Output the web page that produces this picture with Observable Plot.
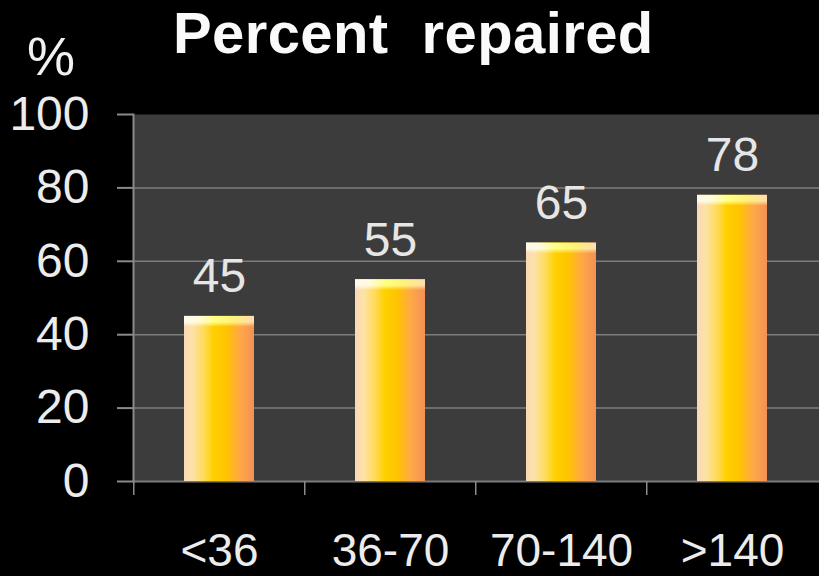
<!DOCTYPE html>
<html>
<head>
<meta charset="utf-8">
<script src="https://cdn.jsdelivr.net/npm/d3@7"></script>
<script src="https://cdn.jsdelivr.net/npm/@observablehq/plot@0.6"></script>
<style>
  html, body { margin: 0; padding: 0; background: #000; }
  #page { position: relative; width: 819px; height: 576px; background: #000; overflow: hidden; font-family: "Liberation Sans", Arial, sans-serif; }
  #header { position: absolute; left: 0; top: 0; width: 819px; height: 100px; color: #f2f2f2; z-index: 1; pointer-events: none; }
  #unit { position: absolute; left: 27px; top: 29px; font-size: 54px; line-height: 1; }
  #title { position: absolute; left: 173px; top: 4px; font-size: 58px; letter-spacing: 0.4px; font-weight: bold; line-height: 1; white-space: pre; color: #fafafa; }
  #chart svg { display: block; }
</style>
</head>
<body>
<div id="page">
  <div id="header">
    <span id="unit">%</span>
    <span id="title">Percent  repaired</span>
  </div>
  <div id="chart"></div>
</div>
<script>
// Share of cases repaired, by size group
const categories = ["<36", "36-70", "70-140", ">140"];
const values = [45, 55, 65, 78];
const yTicks = [0, 20, 40, 60, 80, 100];

const data = categories.map((category, i) => ({category, value: values[i]}));

const chartWidth = 819;
const marginLeft = 133;
const step = (chartWidth - marginLeft) / categories.length;

const chart = Plot.plot({
  width: chartWidth,
  height: 576,
  marginTop: 114,
  marginBottom: 95,
  marginLeft,
  marginRight: 0,
  style: {background: "#000", color: "#e6e6e6", fontFamily: "'Liberation Sans', Arial, sans-serif"},
  x: {domain: categories, paddingInner: 0.59, paddingOuter: 0.295, label: null},
  y: {domain: [0, 100], label: null},
  marks: [
    Plot.frame({fill: "#3c3c3c", stroke: null}),
    Plot.gridY(yTicks.filter(d => d > 0 && d < 100), {stroke: "#7c7c7c", strokeOpacity: 1, strokeWidth: 1.5}),
    Plot.ruleY([0], {stroke: "#7a7a7a", strokeWidth: 2}),
    Plot.frame({anchor: "left", stroke: "#8a8a8a", strokeWidth: 2}),
    // cylinder body
    Plot.barY(data, {x: "category", y: "value", fill: "url(#bar-cylinder)"}),
    // lighter top cap of each cylinder
    Plot.barY(data, {x: "category", y1: d => d.value - 3, y2: "value", fill: "url(#bar-cap)", className: "bar-cap"}),
    Plot.text(data, {x: "category", y: "value", text: d => String(d.value), dy: -24, lineAnchor: "bottom", fontSize: 48, fill: "#e6e6e6"}),
    Plot.axisY({ticks: yTicks, tickSize: 16, tickPadding: 28, fontSize: 48, stroke: "#8a8a8a", strokeWidth: 2, fill: "#ececec", label: null}),
    // tick marks on the group boundaries
    Plot.axisX({tickSize: 14, dx: -step / 2, tickFormat: () => "", stroke: "#8a8a8a", strokeWidth: 1.5, label: null}),
    Plot.axisX({tickSize: 0, tickPadding: 52, fontSize: 46, fill: "#ececec", label: null})
  ]
});

document.getElementById("chart").appendChild(chart);

// gradients used by the bars
const defs = d3.select(chart).insert("defs", ":first-child");
const body = defs.append("linearGradient").attr("id", "bar-cylinder").attr("x1", "0").attr("x2", "1").attr("y1", "0").attr("y2", "0");
[
  [0, "#f9d8b6"], [0.12, "#fde2a8"], [0.3, "#ffda50"], [0.42, "#ffd000"],
  [0.6, "#ffc400"], [0.8, "#ffa848"], [1, "#f29155"]
].forEach(([o, c]) => body.append("stop").attr("offset", o).attr("stop-color", c));

const cap = defs.append("linearGradient").attr("id", "bar-cap").attr("x1", "0").attr("x2", "1").attr("y1", "0").attr("y2", "0");
[
  [0, "#fff8ec"], [0.2, "#fffbe0"], [0.45, "#ffff80"], [0.7, "#fff27a"], [1, "#ffdcae"]
].forEach(([o, c]) => cap.append("stop").attr("offset", o).attr("stop-color", c));

// the cap fades out downward into the body
const fade = defs.append("linearGradient").attr("id", "cap-fade-gradient").attr("x1", "0").attr("x2", "0").attr("y1", "0").attr("y2", "1");
[[0, "#fff"], [0.55, "#fff"], [1, "#000"]].forEach(([o, c]) => fade.append("stop").attr("offset", o).attr("stop-color", c));
defs.append("mask").attr("id", "cap-fade").attr("maskContentUnits", "objectBoundingBox")
  .append("rect").attr("x", 0).attr("y", 0).attr("width", 1).attr("height", 1).attr("fill", "url(#cap-fade-gradient)");
d3.select(chart).selectAll(".bar-cap rect").attr("mask", "url(#cap-fade)");
</script>
</body>
</html>
